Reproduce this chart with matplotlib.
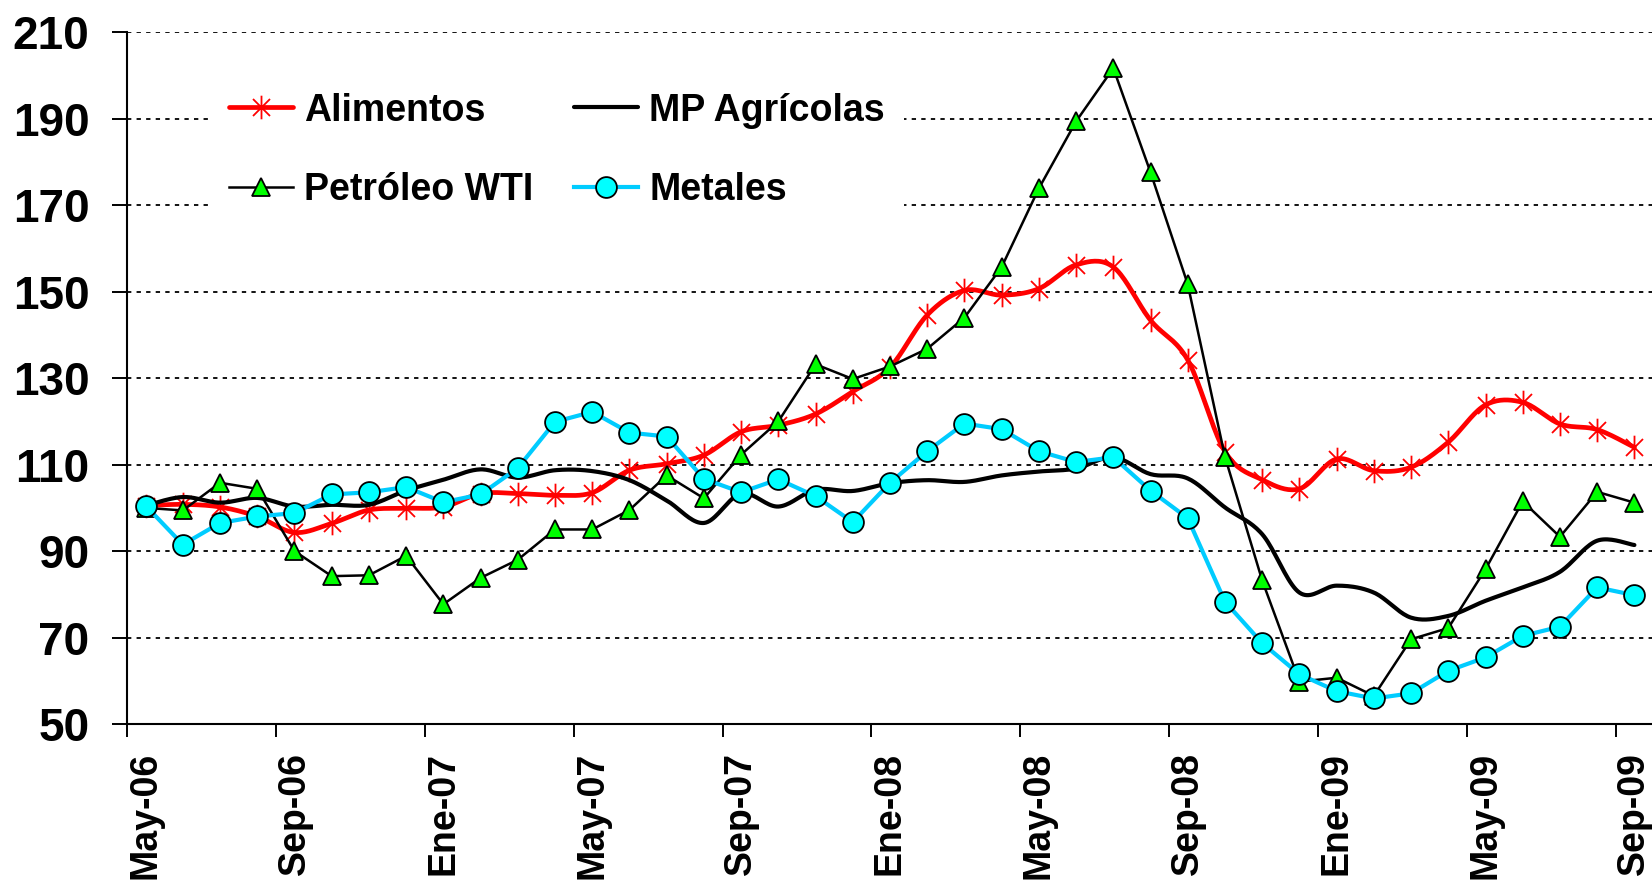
import numpy as np
import matplotlib
matplotlib.use("Agg")
import matplotlib.pyplot as plt
from matplotlib.path import Path
from matplotlib.ticker import FixedLocator

# ---------------- data ----------------
meses = ["Ene", "Feb", "Mar", "Abr", "May", "Jun", "Jul", "Ago", "Sep", "Oct", "Nov", "Dic"]
categorias = []
for k in range(41):
    m = (4 + k) % 12
    a = 6 + (4 + k) // 12
    categorias.append(f"{meses[m]}-{a:02d}")

alimentos = [100.5, 100.8, 100.2, 98.0, 94.3, 96.4, 99.5, 99.9, 100.2, 103.3,
             103.3, 102.9, 103.5, 108.7, 110.2, 112.2, 117.6, 119.1, 121.7, 126.9,
             132.5, 144.6, 150.3, 149.2, 150.7, 156.2, 155.7, 143.4, 134.2, 113.0,
             106.5, 104.4, 111.3, 108.6, 109.4, 115.2, 123.8, 124.4, 119.4, 118.1,
             114.0]
mp_agricolas = [100.5, 102.5, 101.2, 102.3, 100.3, 100.7, 100.7, 104.0, 106.5, 108.9,
                107.0, 108.7, 108.5, 106.4, 101.7, 96.5, 103.3, 100.3, 104.2, 103.9,
                105.7, 106.4, 106.0, 107.5, 108.4, 109.1, 111.7, 107.8, 106.8, 100.1,
                93.9, 80.4, 82.0, 80.4, 74.6, 75.0, 78.5, 81.6, 85.2, 92.4,
                91.4]
petroleo = [100.0, 99.4, 105.8, 104.4, 90.0, 84.2, 84.4, 88.9, 77.7, 83.8,
            88.0, 95.0, 95.0, 99.5, 107.5, 102.2, 112.3, 120.0, 133.2, 129.8,
            132.7, 136.8, 144.0, 155.7, 173.9, 189.4, 201.7, 177.6, 151.7, 111.8,
            83.2, 59.8, 60.7, 56.5, 69.6, 72.2, 85.8, 101.5, 93.3, 103.7,
            101.2]
metales = [100.5, 91.5, 96.5, 98.0, 98.8, 103.1, 103.6, 104.8, 101.3, 103.1,
           109.2, 119.9, 122.2, 117.4, 116.5, 106.7, 103.6, 106.6, 102.7, 96.7,
           105.8, 113.1, 119.5, 118.2, 113.1, 110.6, 111.7, 104.0, 97.6, 78.3,
           68.7, 61.5, 57.6, 55.9, 57.1, 62.3, 65.4, 70.4, 72.5, 81.6,
           79.8]
y_ticks = [50, 70, 90, 110, 130, 150, 170, 190, 210]
label_every = 4


def smooth(x, y, n=20):
    """Excel-style smoothed line (Catmull-Rom / Bezier) through the points."""
    x = np.asarray(x, float)
    y = np.asarray(y, float)
    px = np.concatenate([[x[0]], x, [x[-1]]])
    py = np.concatenate([[y[0]], y, [y[-1]]])
    xs, ys = [], []
    t = np.linspace(0, 1, n, endpoint=False)
    for i in range(1, len(px) - 2):
        p0x, p1x, p2x, p3x = px[i - 1], px[i], px[i + 1], px[i + 2]
        p0y, p1y, p2y, p3y = py[i - 1], py[i], py[i + 1], py[i + 2]
        c1x, c1y = p1x + (p2x - p0x) / 6, p1y + (p2y - p0y) / 6
        c2x, c2y = p2x - (p3x - p1x) / 6, p2y - (p3y - p1y) / 6
        b0 = (1 - t) ** 3
        b1 = 3 * (1 - t) ** 2 * t
        b2 = 3 * (1 - t) * t ** 2
        b3 = t ** 3
        xs.append(b0 * p1x + b1 * c1x + b2 * c2x + b3 * p2x)
        ys.append(b0 * p1y + b1 * c1y + b2 * c2y + b3 * p2y)
    xs.append([x[-1]])
    ys.append([y[-1]])
    return np.concatenate(xs), np.concatenate(ys)


# asterisk marker: vertical bar + X
ast_verts = [(0, -1), (0, 1), (-0.72, -0.72), (0.72, 0.72), (-0.72, 0.72), (0.72, -0.72)]
ast_codes = [Path.MOVETO, Path.LINETO] * 3
asterisk = Path(ast_verts, ast_codes)

plt.rcParams['font.family'] = ['Liberation Sans', 'DejaVu Sans']
plt.rcParams['font.weight'] = 'bold'

fig = plt.figure(figsize=(16.52, 8.88), dpi=100)
ax = fig.add_axes([127 / 1652, 1 - 724 / 888, (1653 - 127) / 1652, (724 - 32.3) / 888])

x = np.arange(len(categorias))

# gridlines
for v in y_ticks[1:]:
    ax.axhline(v, color='black', lw=1.3, dashes=(2.4, 2.9), zorder=0.5)

# Alimentos
sx, sy = smooth(x, alimentos)
ax.plot(sx, sy, color='#FF0000', lw=3.4, zorder=2, solid_capstyle='round')
ax.plot(x, alimentos, ls='none', marker=asterisk, ms=17, mec='#FF0000', mew=1.3,
        zorder=2.1)
h_al, = ax.plot([], [], color='#FF0000', lw=3.4, marker=asterisk, ms=17,
                mec='#FF0000', mew=1.3, label='Alimentos', solid_capstyle='round')

# MP Agrícolas
sx, sy = smooth(x, mp_agricolas)
h_mp, = ax.plot(sx, sy, color='black', lw=3.0, zorder=3, label='MP Agrícolas',
                solid_capstyle='round')

# Petróleo WTI
h_pe, = ax.plot(x, petroleo, color='black', lw=1.8, marker='^', ms=13,
                mfc='#00FF00', mec='black', mew=1.3, zorder=4, label='Petróleo WTI')

# Metales
h_me, = ax.plot(x, metales, color='#00CCFF', lw=3.0, marker='o', ms=15,
                mfc='#00FFFF', mec='black', mew=1.3, zorder=5, label='Metales')

ax.set_xlim(-0.5, len(categorias) - 0.5)
ax.set_ylim(y_ticks[0], y_ticks[-1])

# y axis
ax.set_yticks(y_ticks)
ax.set_yticklabels([str(v) for v in y_ticks], fontsize=33, fontweight='bold')
ax.tick_params(axis='y', which='major', length=11, width=1.4, direction='out', pad=16)

# x axis: tick marks at category boundaries, labels at category centers
lab_pos = x[::label_every]
ax.xaxis.set_major_locator(FixedLocator(lab_pos - 0.5))
ax.set_xticklabels([''] * len(lab_pos))
ax.xaxis.set_minor_locator(FixedLocator(lab_pos))
ax.set_xticklabels([categorias[i] for i in lab_pos], minor=True, rotation=90,
                   fontsize=27, fontweight='bold', va='top', ha='center')
ax.tick_params(axis='x', which='major', length=9.5, width=1.4, direction='out')
ax.tick_params(axis='x', which='minor', length=0, pad=20)

for s in ['top', 'right']:
    ax.spines[s].set_visible(False)
for s in ['left', 'bottom']:
    ax.spines[s].set_linewidth(1.5)

leg = ax.legend(handles=[h_al, h_pe, h_mp, h_me], ncol=2, loc='upper left',
                bbox_to_anchor=(0.0545, 0.94), borderaxespad=0, frameon=True,
                fancybox=False, framealpha=1, facecolor='white', edgecolor='none',
                prop={'size': 27, 'weight': 'bold'}, numpoints=1,
                handlelength=1.7, handletextpad=0.3, columnspacing=1.1,
                labelspacing=1.15, borderpad=0.5)
leg.set_zorder(6)

fig.savefig('out.png', dpi=100)
